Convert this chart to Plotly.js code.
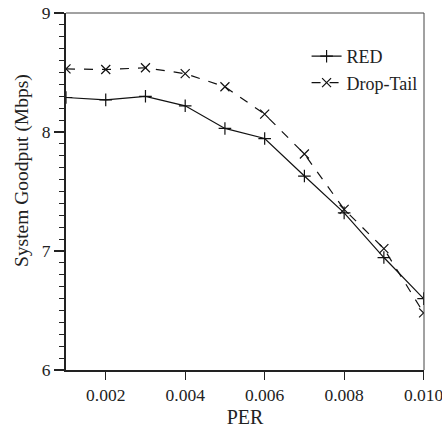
<!DOCTYPE html>
<html>
<head>
<meta charset="utf-8">
<script src="https://cdn.plot.ly/plotly-3.0.1.min.js"></script>
<style>html,body{margin:0;padding:0;background:#fff;}#chart{width:442px;height:429px;}</style>
</head>
<body>
<div id="chart"></div>
<script>
const per = [0.001, 0.002, 0.003, 0.004, 0.005, 0.006, 0.007, 0.008, 0.009, 0.010];
const redGoodput = [8.29, 8.27, 8.30, 8.22, 8.03, 7.945, 7.63, 7.32, 6.945, 6.60];
const dropTailGoodput = [8.53, 8.525, 8.54, 8.49, 8.38, 8.15, 7.815, 7.35, 7.02, 6.48];
const xTickVals = [0.002, 0.004, 0.006, 0.008, 0.010];
const xTickText = ["0.002", "0.004", "0.006", "0.008", "0.010"];
const yTickVals = [6, 7, 8, 9];
const xTitle = "PER";
const yTitle = "System Goodput (Mbps)";

const FAM = "'Liberation Serif', 'DejaVu Serif', serif";
const tickFont = {family: FAM, size: 17.5, color: "#222"};
const titleFont = {family: FAM, size: 20, color: "#222"};
const yTitleFont = {family: FAM, size: 19.5, color: "#222"};
const legendFont = {family: FAM, size: 18, color: "#222"};

const traces = [
  {
    x: per, y: redGoodput, name: "RED", mode: "lines+markers",
    line: {color: "#111", width: 1.2, dash: "solid"},
    marker: {symbol: "cross-thin", size: 9, color: "#111", line: {color: "#111", width: 1.2}}
  },
  {
    x: per, y: dropTailGoodput, name: "Drop-Tail", mode: "lines+markers",
    line: {color: "#111", width: 1.2, dash: "dash"},
    marker: {symbol: "x-thin", size: 9, color: "#111", line: {color: "#111", width: 1.2}}
  }
];

const layout = {
  width: 442, height: 429,
  margin: {l: 66, r: 18, t: 13, b: 59},
  paper_bgcolor: "#fff", plot_bgcolor: "#fff",
  font: tickFont,
  showlegend: true,
  legend: {x: 0.672, y: 0.93, xanchor: "left", yanchor: "top", bgcolor: "rgba(0,0,0,0)",
           font: legendFont, tracegroupgap: 0, itemwidth: 30},
  xaxis: {
    range: [0.001, 0.01001], tickvals: xTickVals, ticktext: xTickText,
    tickfont: tickFont, ticklabeloverflow: "allow",
    ticks: "outside", ticklen: 8, tickwidth: 1.2, tickcolor: "#222",
    showline: true, linewidth: 2, linecolor: "#222", mirror: false,
    showgrid: false, zeroline: false,
    title: {text: xTitle, font: titleFont, standoff: 6}
  },
  yaxis: {
    range: [6, 9], tickvals: yTickVals, tickfont: tickFont,
    ticks: "outside", ticklen: 10, tickwidth: 1.2, tickcolor: "#222",
    minor: {dtick: 0.1, ticks: "outside", ticklen: 5, tickwidth: 1, tickcolor: "#222", showgrid: false},
    showline: true, linewidth: 2, linecolor: "#222", mirror: false,
    showgrid: false, zeroline: false
  },
  annotations: [
    {text: yTitle, xref: "paper", yref: "paper", x: -0.123, y: 0.56,
     xanchor: "center", yanchor: "middle", textangle: -90, showarrow: false, font: yTitleFont}
  ],
  shapes: [
    {type: "line", xref: "paper", yref: "paper", x0: 0, x1: 1, y0: 1, y1: 1, line: {color: "#444", width: 1}},
    {type: "line", xref: "paper", yref: "paper", x0: 1, x1: 1, y0: 0, y1: 1, line: {color: "#444", width: 1}}
  ]
};

Plotly.newPlot("chart", traces, layout, {displayModeBar: false, staticPlot: true});
</script>
</body>
</html>
